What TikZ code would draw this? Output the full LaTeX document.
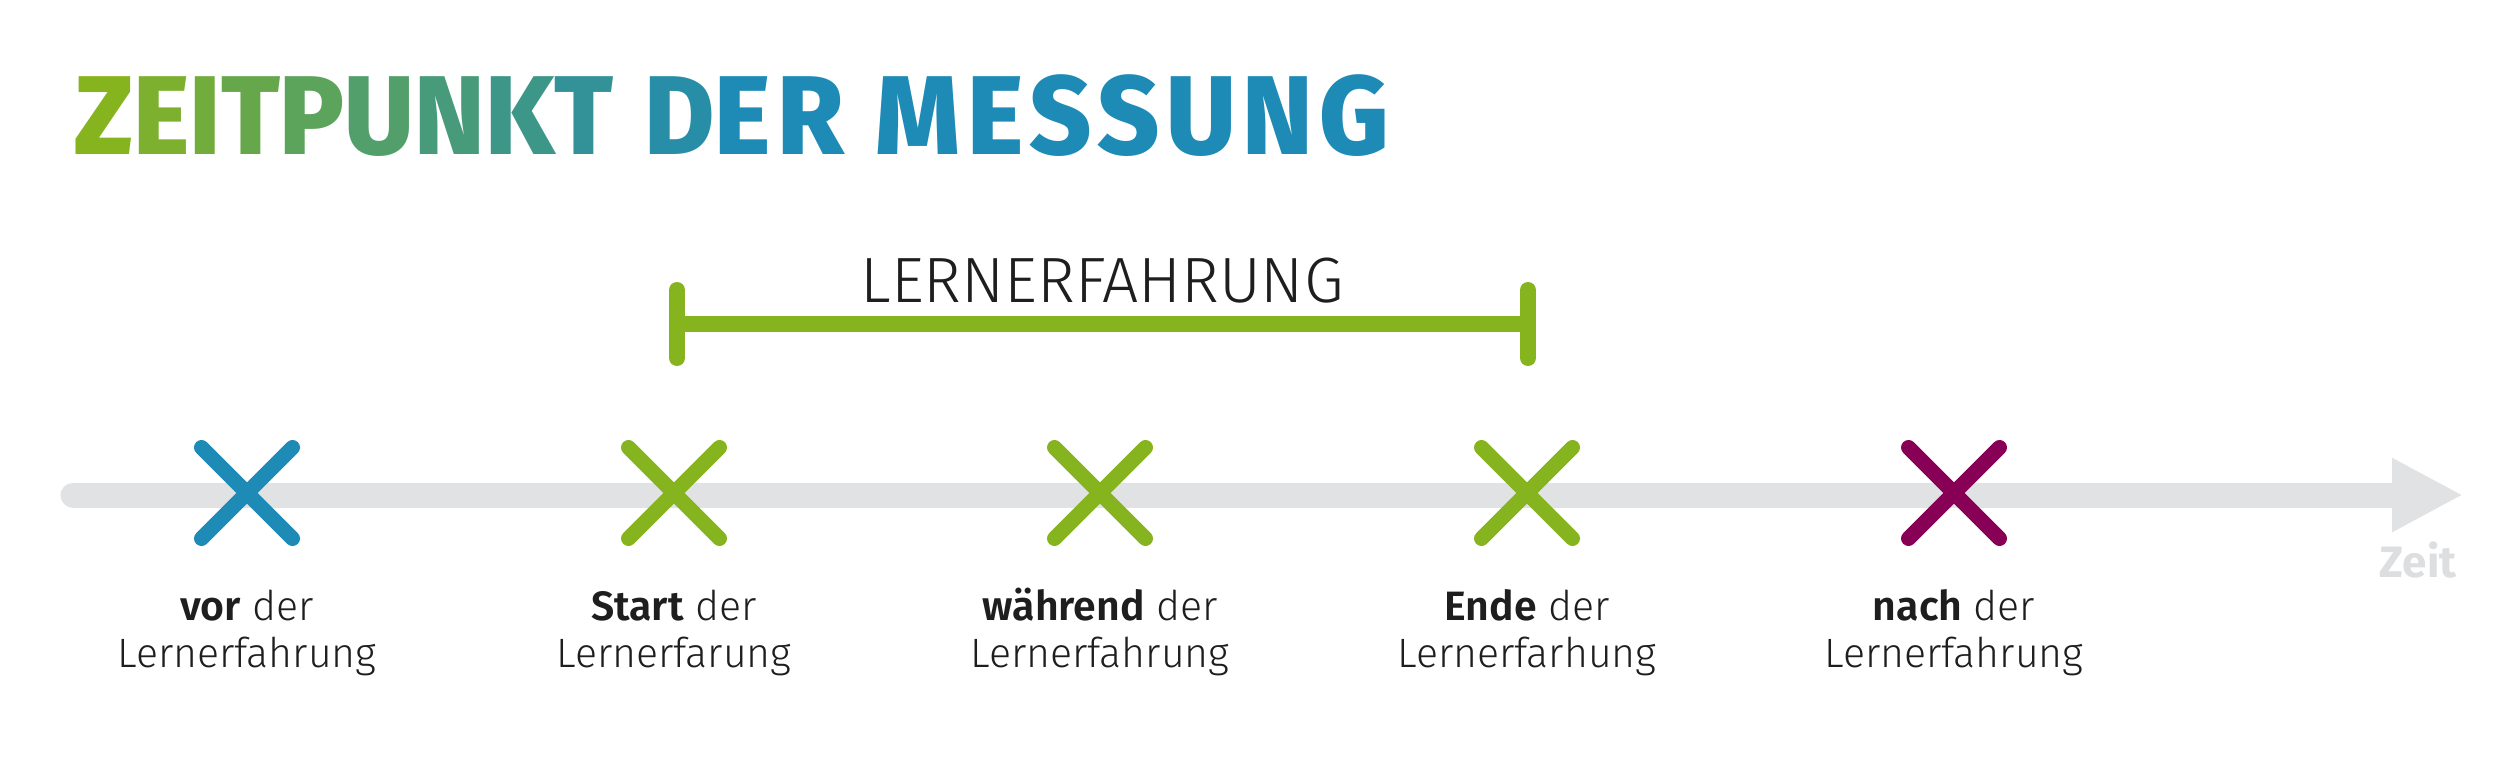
\documentclass[tikz,border=0pt]{standalone}
\usepackage{fontspec}
\setmainfont{Fira Sans}[UprightFont=* Light, BoldFont=* SemiBold]
\newfontfamily\titlefont{Fira Sans}[UprightFont=* ExtraBold, FakeStretch=0.96, LetterSpace=6]
\newfontfamily\zeitfont{Fira Sans}[UprightFont=* Bold]
\usetikzlibrary{arrows.meta,shapes.misc}
\definecolor{cblue}{HTML}{1E8AB6}
\definecolor{cgreen}{HTML}{86B41F}
\definecolor{cpurple}{HTML}{880055}
\definecolor{cgrey}{HTML}{E1E2E4}
\definecolor{ctext}{HTML}{1E1E1E}
\definecolor{czeit}{HTML}{DDDEE0}
\newcommand{\tl}[2]{{\color{cgreen!#1!cblue}#2}}
\begin{document}
\begin{tikzpicture}[x=1pt,y=-1pt,
  xmk/.style={cross out, draw, line width=15pt, line cap=round, minimum size=91pt, inner sep=0pt, outer sep=0pt},
  lbl/.style={anchor=base, inner sep=0pt, text=ctext, font=\fontsize{41}{46}\selectfont},
  brk/.style={cgreen, line width=16pt, line cap=round}]
\useasboundingbox (0,0) rectangle (2500,762);
% title
\node[anchor=base west, inner sep=0pt, font=\titlefont\fontsize{112}{112}\selectfont] (title) at (74,155)
  {\tl{100}{Z}\tl{90}{E}\tl{80}{I}\tl{70}{T}\tl{60}{P}\tl{50}{U}\tl{40}{N}\tl{30}{K}\tl{20}{T} \tl{10}{D}\tl{0}{ER MESSUNG}};
% time axis
\coordinate (t0) at (73,495);
\coordinate (t1) at (2463,495);
\draw[cgrey, line width=25pt, line cap=round, -{Triangle[length=71pt,width=69pt]}] (t0) -- (t1);
\node[anchor=base, inner sep=0pt, text=czeit, font=\zeitfont\fontsize{44}{44}\selectfont] (zeit) at (2418,577) {Zeit};
% bracket
\coordinate (b1t) at (677,290);
\coordinate (b1b) at (677,358);
\coordinate (b2t) at (1528,290);
\coordinate (b2b) at (1528,358);
\coordinate (b1m) at (677,324);
\coordinate (b2m) at (1528,324);
\draw[brk] (b1t) -- (b1b);
\draw[brk] (b2t) -- (b2b);
\draw[brk, line cap=butt] (b1m) -- (b2m);
\node[anchor=base, inner sep=0pt, text=ctext, font=\fontsize{64}{64}\selectfont] (lern) at (1102,302) {LERNERFAHRUNG};
% marks
\node[xmk, cblue] (m1) at (247,493) {};
\node[xmk, cgreen] (m2) at (674,493) {};
\node[xmk, cgreen] (m3) at (1100,493) {};
\node[xmk, cgreen] (m4) at (1527,493) {};
\node[xmk, cpurple] (m5) at (1954,493) {};
% labels
\node[lbl] (l1a) at (247,620) {\textbf{vor} der};
\node[lbl] (l1b) at (247,667) {Lernerfahrung};
\node[lbl] (l2a) at (674,620) {\textbf{Start} der};
\node[lbl] (l2b) at (674,667) {Lernerfarung};
\node[lbl] (l3a) at (1100,620) {\textbf{während} der};
\node[lbl] (l3b) at (1100,667) {Lernerfahrung};
\node[lbl] (l4a) at (1527,620) {\textbf{Ende} der};
\node[lbl] (l4b) at (1527,667) {Lernerfarhung};
\node[lbl] (l5a) at (1954,620) {\textbf{nach} der};
\node[lbl] (l5b) at (1954,667) {Lernerfahrung};
\end{tikzpicture}
\end{document}
